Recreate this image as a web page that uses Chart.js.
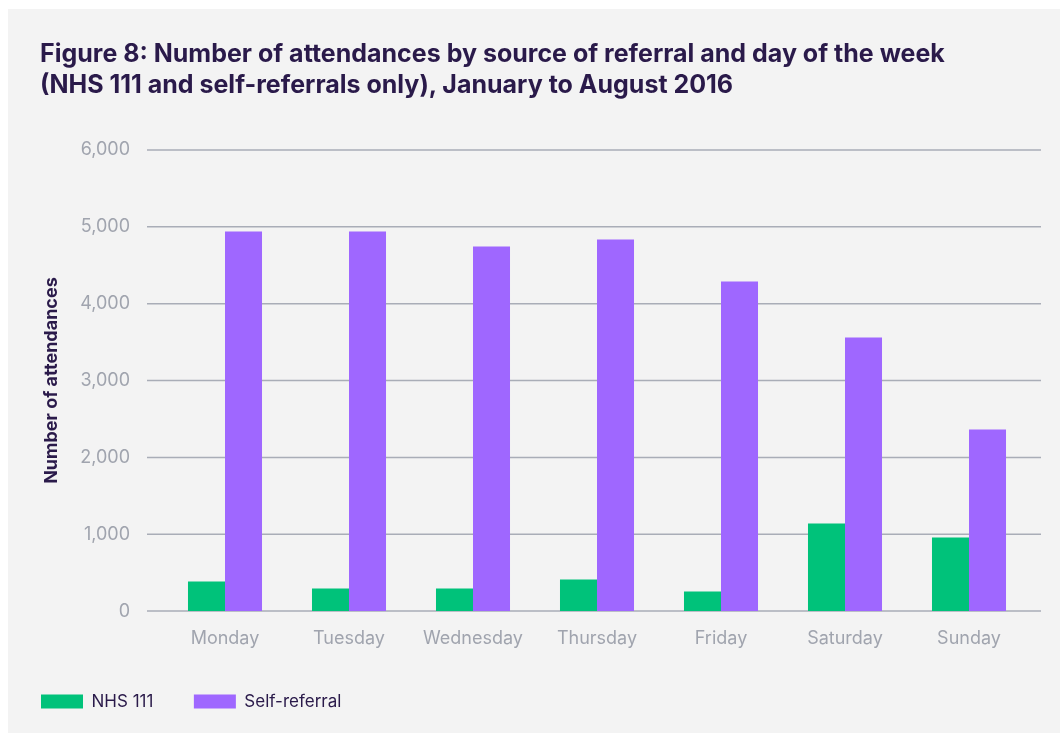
<!DOCTYPE html>
<html>
<head>
<meta charset="utf-8">
<script src="https://cdn.jsdelivr.net/npm/chart.js@4"></script>
<style>
  html, body { margin: 0; padding: 0; background: #ffffff; }
  #panel { position: absolute; left: 8px; top: 9px; width: 1052px; height: 724px; background: #f3f3f3; }
  #title { position: absolute; left: 32px; top: 29px; margin: 0; font-family: Inter, sans-serif; font-weight: 700;
           font-size: 25px; line-height: 31px; color: #2a1a4a; white-space: nowrap; }
  #wrap { position: absolute; left: 0; top: 0; width: 1052px; height: 724px; }
</style>
</head>
<body>
<div id="panel">
  <div id="wrap"><canvas id="myChart"></canvas></div>
  <h2 id="title">Figure 8: Number of attendances by source of referral and day of the week<br>(NHS 111 and self-referrals only), January to August 2016</h2>
</div>
<script>
var days = ['Monday', 'Tuesday', 'Wednesday', 'Thursday', 'Friday', 'Saturday', 'Sunday'];
var nhs111 = [386, 295, 295, 412, 256, 1141, 959];
var selfReferral = [4940, 4940, 4745, 4835, 4289, 3561, 2364];
var yTicks = [0, 1000, 2000, 3000, 4000, 5000, 6000];

var textGrey = '#a0a4ae';
var darkText = '#2a1a4a';

/* gridlines run a bit past the plot on both sides */
var longGrid = {
  id: 'longGrid',
  beforeDatasetsDraw: function (chart) {
    var ctx = chart.ctx;
    var y = chart.scales.y;
    var area = chart.chartArea;
    ctx.save();
    ctx.strokeStyle = '#a9adb7';
    ctx.lineWidth = 1.5;
    yTicks.forEach(function (v) {
      var py = y.getPixelForValue(v);
      ctx.beginPath();
      ctx.moveTo(area.left - 16, py);
      ctx.lineTo(area.right + 10, py);
      ctx.stroke();
    });
    ctx.restore();
  }
};

function createChart() {
  const ctx = document.getElementById('myChart');
  new Chart(ctx, {
    type: 'bar',
    data: {
      labels: days,
      datasets: [{
        label: 'NHS 111',
        data: nhs111,
        backgroundColor: '#00c27a'
      }, {
        label: 'Self-referral',
        data: selfReferral,
        backgroundColor: '#9f67ff'
      }]
    },
    options: {
      responsive: false,
      animation: false,
      devicePixelRatio: 1,
      layout: { padding: { left: -7.5, right: 29, top: 141, bottom: 13 } },
      datasets: { bar: { categoryPercentage: 0.597, barPercentage: 1.0 } },
      plugins: {
        tooltip: { enabled: false },
        legend: {
          position: 'bottom',
          align: 'start',
          labels: {
            boxWidth: 42,
            boxHeight: 14,
            padding: 40.5,
            color: darkText,
            font: { family: 'Inter', size: 17 }
          }
        }
      },
      scales: {
        x: {
          afterFit: function (scale) { scale.height -= 6.2; },
          grid: { display: false },
          border: { display: false },
          ticks: { color: textGrey, padding: 9, font: { family: 'Inter', size: 18 } }
        },
        y: {
          min: 0,
          max: 6000,
          afterFit: function (scale) { scale.width = 162.5; },
          grid: { display: false, drawTicks: false },
          border: { display: false },
          ticks: {
            stepSize: 1000,
            padding: 33,
            color: textGrey,
            font: { family: 'Inter', size: 18 },
            callback: function (v) { return v.toLocaleString('en-GB'); }
          },
          title: {
            display: true,
            text: 'Number of attendances',
            color: darkText,
            padding: { top: 40, bottom: 0 },
            font: { family: 'Inter', size: 18, weight: 'bold' }
          }
        }
      }
    },
    plugins: [longGrid]
  });
}

ctxSize();
function ctxSize() {
  var c = document.getElementById('myChart');
  c.width = 1052;
  c.height = 724;
  c.style.width = '1052px';
  c.style.height = '724px';
}
window.onload = createChart();
</script>
</body>
</html>
